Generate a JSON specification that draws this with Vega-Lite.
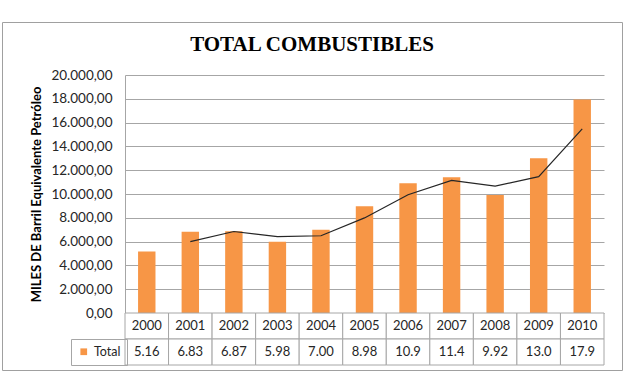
{
  "$schema": "https://vega.github.io/schema/vega-lite/v6.json",
  "width": 620,
  "height": 348,
  "autosize": {"type": "none"},
  "padding": {"left": 2, "top": 22, "right": 2, "bottom": 8},
  "background": "white",
  "title": {
    "text": "TOTAL COMBUSTIBLES",
    "font": "Liberation Serif",
    "fontSize": 21,
    "fontWeight": "bold",
    "color": "#000000",
    "anchor": "middle",
    "frame": "group",
    "offset": -33
  },
  "config": {
    "view": {"stroke": "#a0a0a0", "strokeWidth": 1},
    "locale": {
      "number": {"decimal": ",", "thousands": ".", "grouping": [3], "currency": ["", " €"]}
    },
    "font": "Lato",
    "axisY": {
      "titleFont": "Lato",
      "titleFontSize": 13,
      "titleFontWeight": "bold",
      "titleColor": "#000000",
      "titlePadding": 7,
      "labelOverlap": false,
      "labelFont": "Lato",
      "labelFontSize": 13.5,
      "labelColor": "#262626",
      "labelPadding": 13,
      "ticks": false,
      "grid": true,
      "gridColor": "#a6a6a6",
      "gridWidth": 1,
      "domain": true,
      "domainColor": "#a6a6a6"
    }
  },
  "data": {
    "values": [
      {"year": "2000", "value": 5160, "lbl": "5.16", "ma": null},
      {"year": "2001", "value": 6830, "lbl": "6.83", "ma": 5995},
      {"year": "2002", "value": 6870, "lbl": "6.87", "ma": 6850},
      {"year": "2003", "value": 5980, "lbl": "5.98", "ma": 6425},
      {"year": "2004", "value": 7000, "lbl": "7.00", "ma": 6490},
      {"year": "2005", "value": 8980, "lbl": "8.98", "ma": 7990},
      {"year": "2006", "value": 10900, "lbl": "10.9", "ma": 9940},
      {"year": "2007", "value": 11400, "lbl": "11.4", "ma": 11150},
      {"year": "2008", "value": 9920, "lbl": "9.92", "ma": 10660},
      {"year": "2009", "value": 13000, "lbl": "13.0", "ma": 11460},
      {"year": "2010", "value": 17940, "lbl": "17.9", "ma": 15470}
    ]
  },
  "layer": [
    {
      "encoding": {
        "x": {
          "field": "year",
          "type": "nominal",
          "axis": null,
          "scale": {
            "type": "band",
            "domain": ["2000","2001","2002","2003","2004","2005","2006","2007","2008","2009","2010"],
            "range": [123, 602],
            "paddingInner": 0.6,
            "paddingOuter": 0.3
          }
        }
      },
      "layer": [
        {
          "mark": {"type": "bar"},
          "encoding": {
            "y": {
              "field": "value",
              "type": "quantitative",
              "scale": {"domain": [0, 20000], "range": [291, 53], "nice": false},
              "axis": {
                "title": "MILES DE Barril Equivalente Petróleo",
                "values": [0,2000,4000,6000,8000,10000,12000,14000,16000,18000,20000],
                "format": ",.2f",
                "offset": -123
              }
            },
            "color": {
              "datum": "Total",
              "type": "nominal",
              "scale": {"range": ["#f79646"]},
              "legend": {
                "orient": "none",
                "legendX": 69,
                "legendY": 317,
                "title": null,
                "strokeColor": "#a6a6a6",
                "padding": 6.5,
                "symbolType": "square",
                "symbolSize": 45,
                "symbolStrokeWidth": 0,
                "labelFont": "Lato",
                "labelFontSize": 12.5,
                "labelColor": "#262626",
                "labelOffset": 4
              }
            }
          }
        },
        {
          "mark": {"type": "line", "color": "#262626", "strokeWidth": 1.2},
          "encoding": {
            "y": {
              "field": "ma",
              "type": "quantitative",
              "axis": {
                "title": "MILES DE Barril Equivalente Petróleo",
                "values": [0,2000,4000,6000,8000,10000,12000,14000,16000,18000,20000],
                "format": ",.2f",
                "offset": -123
              }
            }
          }
        }
      ]
    },
    {
      "transform": [{"fold": ["year", "lbl"], "as": ["row", "txt"]}],
      "encoding": {
        "x": {
          "field": "year",
          "type": "nominal",
          "axis": null,
          "scale": {
            "type": "band",
            "domain": ["2000","2001","2002","2003","2004","2005","2006","2007","2008","2009","2010"],
            "range": [123, 602],
            "paddingInner": 0,
            "paddingOuter": 0
          }
        },
        "y": {
          "field": "row",
          "type": "nominal",
          "axis": null,
          "scale": {"type": "band", "domain": ["year", "lbl"], "range": [291, 343], "paddingInner": 0, "paddingOuter": 0}
        }
      },
      "layer": [
        {
          "mark": {"type": "rect", "fill": "white", "stroke": "#a6a6a6", "strokeWidth": 1}
        },
        {
          "mark": {"type": "text", "font": "Lato", "fontSize": 13, "color": "#262626"},
          "encoding": {"text": {"field": "txt", "type": "nominal"}}
        }
      ]
    }
  ],
  "resolve": {"scale": {"x": "independent", "y": "independent", "color": "independent"}}
}
